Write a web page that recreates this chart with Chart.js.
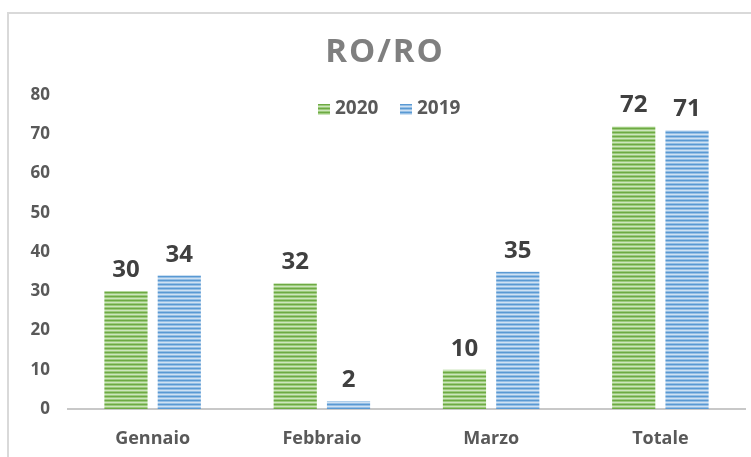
<!DOCTYPE html>
<html>
<head>
<meta charset="utf-8">
<script src="https://cdn.jsdelivr.net/npm/chart.js@4"></script>
<style>
  html, body { margin: 0; padding: 0; background: #fff; overflow: hidden; }
  #wrap { position: relative; width: 751px; height: 457px; }
  #frame { position: absolute; left: 7px; top: 12px; width: 800px; height: 500px; border: 2px solid #d9d9d9; box-sizing: border-box; }
  #c { position: absolute; left: 0; top: 0; }
</style>
</head>
<body>
<div id="wrap">
  <div id="frame"></div>
  <canvas id="c" width="751" height="457"></canvas>
</div>
<script>
const categories = ["Gennaio", "Febbraio", "Marzo", "Totale"];
const values2020 = [30, 32, 10, 72];
const values2019 = [34, 2, 35, 71];
const seriesNames = ["2020", "2019"];
const yTicks = [0, 10, 20, 30, 40, 50, 60, 70, 80];
const chartTitle = "RO/RO";

const FONT = "'Open Sans', sans-serif";

// striped fill like the Excel pattern
function stripes(colors) {
  const p = document.createElement("canvas");
  p.width = 8;
  p.height = colors.length;
  const g = p.getContext("2d");
  colors.forEach((c, i) => {
    g.fillStyle = c;
    g.fillRect(0, i, 8, 1);
  });
  return g.createPattern(p, "repeat");
}
const green = stripes(["#6ea944", "#9ccb7c", "#cde5bd", "#9ccb7c"]);
const blue = stripes(["#5a99d3", "#95bfe5", "#cfe1f3", "#95bfe5"]);

// value labels above bars
const barLabels = {
  id: "barLabels",
  afterDatasetsDraw(chart) {
    const ctx = chart.ctx;
    ctx.save();
    ctx.font = "bold 24px " + FONT;
    ctx.fillStyle = "#404040";
    ctx.textAlign = "center";
    ctx.textBaseline = "alphabetic";
    chart.data.datasets.forEach((ds, i) => {
      chart.getDatasetMeta(i).data.forEach((bar, j) => {
        ctx.fillText(ds.data[j], bar.x, bar.y - 14);
      });
    });
    ctx.restore();
  }
};

// title with wider letter spacing + legend inside the plot, drawn by hand
const header = {
  id: "header",
  afterDraw(chart) {
    const ctx = chart.ctx;
    ctx.save();
    ctx.font = "bold 33px " + FONT;
    ctx.letterSpacing = "2px";
    ctx.fillStyle = "#7f7f7f";
    ctx.textAlign = "center";
    ctx.textBaseline = "middle";
    ctx.fillText(chartTitle, 385, 53);
    ctx.restore();

    const items = [
      { text: seriesNames[0], fill: green, x: 318 },
      { text: seriesNames[1], fill: blue, x: 400 }
    ];
    ctx.save();
    ctx.font = "bold 19px " + FONT;
    ctx.textBaseline = "middle";
    ctx.textAlign = "left";
    items.forEach(it => {
      ctx.fillStyle = it.fill;
      ctx.fillRect(it.x, 104, 12, 11);
      ctx.fillStyle = "#595959";
      ctx.fillText(it.text, it.x + 17, 109);
    });
    ctx.restore();
  }
};

new Chart(document.getElementById("c").getContext("2d"), {
  type: "bar",
  data: {
    labels: categories,
    datasets: [
      { label: seriesNames[0], data: values2020, backgroundColor: green, barPercentage: 0.81, categoryPercentage: 0.63 },
      { label: seriesNames[1], data: values2019, backgroundColor: blue, barPercentage: 0.81, categoryPercentage: 0.63 }
    ]
  },
  options: {
    responsive: false,
    animation: false,
    layout: { padding: { left: 0, right: 6, top: 95, bottom: 0 } },
    plugins: {
      legend: { display: false },
      tooltip: { enabled: false },
      title: { display: false }
    },
    scales: {
      x: {
        grid: { display: false, drawTicks: false },
        border: { display: true, color: "#c8c8c8", width: 2 },
        ticks: { color: "#595959", padding: 19, font: { family: FONT, size: 18, weight: "bold" } },
        afterFit(scale) { scale.height = 48; }
      },
      y: {
        min: 0,
        max: 80,
        afterBuildTicks(scale) { scale.ticks = yTicks.map(v => ({ value: v })); },
        grid: { display: false, drawTicks: false },
        border: { display: false },
        ticks: { color: "#595959", padding: 18, font: { family: FONT, size: 17, weight: "bold" } },
        afterFit(scale) { scale.width = 68; }
      }
    }
  },
  plugins: [barLabels, header]
});
</script>
</body>
</html>
